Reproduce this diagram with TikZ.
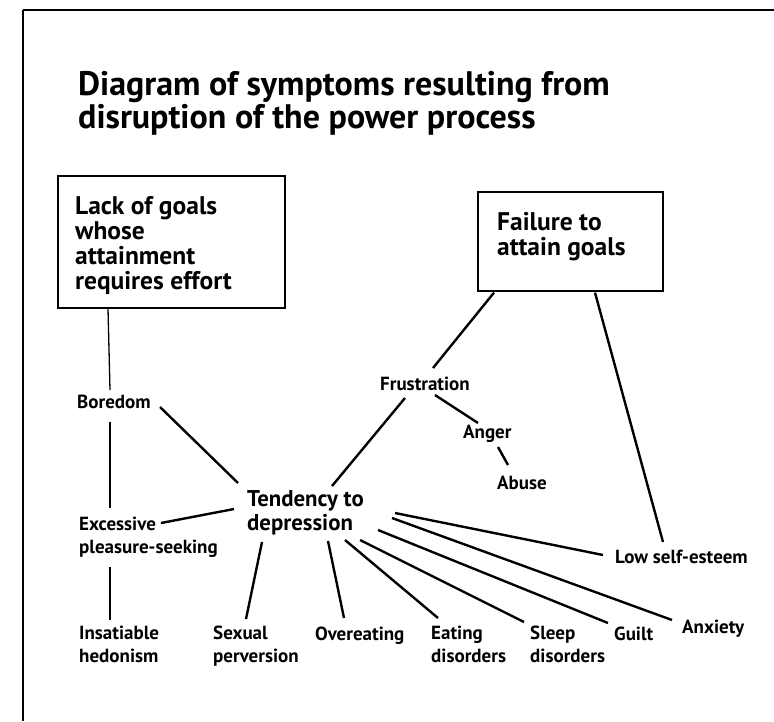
\documentclass[tikz,border=0pt]{standalone}
\usepackage{fontspec}
\setmainfont{PT Sans}
\usetikzlibrary{calc}
\begin{document}
\begin{tikzpicture}[x=1pt,y=-1pt,
  lbl/.style={anchor=base west, inner sep=0pt, align=left, font=\fontsize{19}{22.5}\selectfont\bfseries},
  midlbl/.style={anchor=base west, inner sep=0pt, align=left, font=\fontsize{22.8}{23.5}\selectfont\bfseries},
  boxlbl/.style={anchor=base west, inner sep=0pt, align=left, font=\fontsize{25.5}{24.8}\selectfont\bfseries},
  titlelbl/.style={anchor=base west, inner sep=0pt, align=left, font=\fontsize{34}{32.5}\selectfont\bfseries},
  goalbox/.style={draw, line width=1.6pt, inner sep=0pt, anchor=north west},
  conn/.style={line width=2.4pt},
  thin/.style={line width=1.3pt}]
\useasboundingbox (0,0) rectangle (774,721);
% frame
\coordinate (ftl) at (23,10);
\coordinate (ftr) at (774,10);
\coordinate (fbl) at (23,721);
\draw[line width=1.4pt] (fbl) -- (ftl);
\draw[line width=2pt] (ftl) -- (ftr);
% title (base = last line)
\node[titlelbl] (title) at (78,128) {Diagram of symptoms resulting from\\disruption of the power process};
% boxes
\node[goalbox, minimum width=227pt, minimum height=132pt] (lack) at (57,175) {};
\node[boxlbl] (lacktxt) at (75,289) {Lack of goals\\whose\\attainment\\requires effort};
\node[goalbox, minimum width=185pt, minimum height=99pt] (fail) at (477,191) {};
\node[boxlbl] (failtxt) at (497,255) {Failure to\\attain goals};
% labels (base = last line)
\node[lbl] (bore) at (77,408) {Boredom};
\node[lbl] (excess) at (79,553) {Excessive\\pleasure-seeking};
\node[lbl] (insat) at (79,662) {Insatiable\\hedonism};
\node[midlbl] (tend) at (247,530) {Tendency to\\depression};
\node[lbl] (sex) at (213,662) {Sexual\\perversion};
\node[lbl] (over) at (315,640) {Overeating};
\node[lbl] (eat) at (431,662) {Eating\\disorders};
\node[lbl] (sleep) at (530,662) {Sleep\\disorders};
\node[lbl] (guilt) at (614,640) {Guilt};
\node[lbl] (anx) at (682,633) {Anxiety};
\node[lbl] (low) at (615,563) {Low self-esteem};
\node[lbl] (frust) at (380,390) {Frustration};
\node[lbl] (anger) at (463,438) {Anger};
\node[lbl] (abuse) at (497,489) {Abuse};
% left column (thin)
\draw[thin] ($(lack.south west)+(51,0)$) -- ($(bore.base west)+(33,-18)$);
\draw[thin] ($(bore.base west)+(33,14)$) -- ($(excess.base west)+(31,-45)$);
\draw[thin] ($(excess.base west)+(31,14)$) -- ($(insat.base west)+(31,-42)$);
% connectors to tendency
\draw[conn] ($(bore.base west)+(83,-1)$) -- ($(tend.base west)+(-9,-47)$);
\draw[conn] ($(excess.base west)+(82,-30)$) -- ($(tend.base west)+(-13,-21)$);
\draw[conn] ($(frust.base west)+(25,8)$) -- ($(tend.base west)+(85,-44)$);
\draw[conn] ($(tend.base west)+(148,-17)$) -- ($(low.base west)+(-12,-8)$);
\draw[conn] ($(tend.base west)+(145,-12)$) -- ($(anx.base west)+(-10,-13)$);
\draw[conn] ($(tend.base west)+(131,0)$) -- ($(guilt.base west)+(-6,-17)$);
\draw[conn] ($(tend.base west)+(113,10)$) -- ($(sleep.base west)+(-6,-40)$);
\draw[conn] ($(tend.base west)+(98,10)$) -- ($(eat.base west)+(7,-44)$);
\draw[conn] ($(tend.base west)+(81,11)$) -- ($(over.base west)+(29,-22)$);
\draw[conn] ($(tend.base west)+(15,12)$) -- ($(sex.base west)+(33,-43)$);
% failure branch
\draw[conn] ($(fail.south west)+(17,1)$) -- ($(frust.base west)+(53,-22)$);
\draw[conn] ($(fail.south west)+(118,1)$) -- ($(low.base west)+(48,-21)$);
\draw[conn] ($(frust.base west)+(55,5)$) -- ($(anger.base west)+(15,-15)$);
\draw[conn] ($(anger.base west)+(35,9)$) -- ($(abuse.base west)+(11,-24)$);
\end{tikzpicture}
\end{document}
